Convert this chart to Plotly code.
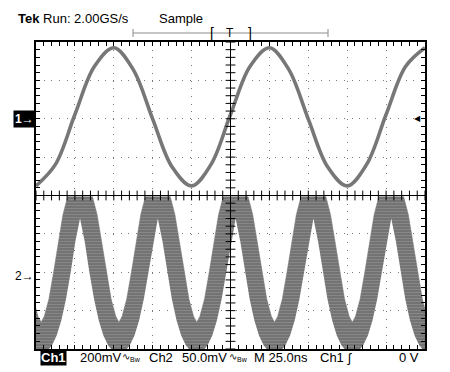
import plotly.graph_objects as go
import numpy as np

# ---- data (time in ns, amplitude in divisions) ----
ch1_t = [0, 12.5, 25, 37.5, 50, 62.5, 75, 87.5, 100, 112.5, 125, 137.5, 150,
         162.5, 175, 187.5, 200, 212.5, 225, 237.5, 250]
ch1_v = [0.25, 0.81, 2.11, 3.36, 3.85, 3.28, 1.99, 0.74, 0.25, 0.81, 2.11, 3.36,
         3.85, 3.28, 1.99, 0.74, 0.25, 0.81, 2.11, 3.36, 3.85]

ch2_up_t = [-13.7, -10.7, -7.7, -4.7, -1.7, 1.3, 3.3, 5.3, 8.3, 11.3, 14.3, 17.3,
            20.3, 36.3, 39.3, 42.3, 45.3, 48.3, 51.3, 53.3, 55.3, 58.3, 61.3, 64.3, 67.3,
            70.3, 86.3, 89.3, 92.3, 95.3, 98.3, 101.3, 103.3, 105.3, 108.3, 111.3, 114.3, 117.3,
            120.3, 136.3, 139.3, 142.3, 145.3, 148.3, 151.3, 153.3, 155.3, 158.3, 161.3, 164.3, 167.3,
            170.3, 186.3, 189.3, 192.3, 195.3, 198.3, 201.3, 203.3, 205.3, 208.3, 211.3, 214.3, 217.3,
            220.3, 236.3, 239.3, 242.3, 245.3, 248.3, 251.3, 253.3, 255.3, 258.3, 261.3, 264.3, 267.3,
            270.3]
ch2_up_v = [-0.03, -0.5, -1.2, -2.0, -2.7, -3.15, -3.3, -3.15, -2.7, -2.0, -1.2, -0.5,
            -0.03, -0.03, -0.5, -1.2, -2.0, -2.7, -3.15, -3.3, -3.15, -2.7, -2.0, -1.2, -0.5,
            -0.03, -0.03, -0.5, -1.2, -2.0, -2.7, -3.15, -3.3, -3.15, -2.7, -2.0, -1.2, -0.5,
            -0.03, -0.03, -0.5, -1.2, -2.0, -2.7, -3.15, -3.3, -3.15, -2.7, -2.0, -1.2, -0.5,
            -0.03, -0.03, -0.5, -1.2, -2.0, -2.7, -3.15, -3.3, -3.15, -2.7, -2.0, -1.2, -0.5,
            -0.03, -0.03, -0.5, -1.2, -2.0, -2.7, -3.15, -3.3, -3.15, -2.7, -2.0, -1.2, -0.5,
            -0.03]
ch2_lo_t = [-21.7, -18.7, -15.7, -12.7, -9.7, -6.7, -3.7, -0.7, 7.3, 10.3, 13.3, 16.3, 19.3, 22.3, 25.3,
            28.3, 31.3, 34.3, 37.3, 40.3, 43.3, 46.3, 49.3, 57.3, 60.3, 63.3, 66.3, 69.3, 72.3, 75.3,
            78.3, 81.3, 84.3, 87.3, 90.3, 93.3, 96.3, 99.3, 107.3, 110.3, 113.3, 116.3, 119.3, 122.3, 125.3,
            128.3, 131.3, 134.3, 137.3, 140.3, 143.3, 146.3, 149.3, 157.3, 160.3, 163.3, 166.3, 169.3, 172.3, 175.3,
            178.3, 181.3, 184.3, 187.3, 190.3, 193.3, 196.3, 199.3, 207.3, 210.3, 213.3, 216.3, 219.3, 222.3, 225.3,
            228.3, 231.3, 234.3, 237.3, 240.3, 243.3, 246.3, 249.3, 257.3, 260.3, 263.3, 266.3, 269.3, 272.3, 275.3,
            278.3]
ch2_lo_v = [-0.6, -1.2, -2.0, -2.7, -3.25, -3.65, -3.9, -4.05, -4.05, -3.9, -3.65, -3.25, -2.7, -2.0, -1.2,
            -0.6, -1.2, -2.0, -2.7, -3.25, -3.65, -3.9, -4.05, -4.05, -3.9, -3.65, -3.25, -2.7, -2.0, -1.2,
            -0.6, -1.2, -2.0, -2.7, -3.25, -3.65, -3.9, -4.05, -4.05, -3.9, -3.65, -3.25, -2.7, -2.0, -1.2,
            -0.6, -1.2, -2.0, -2.7, -3.25, -3.65, -3.9, -4.05, -4.05, -3.9, -3.65, -3.25, -2.7, -2.0, -1.2,
            -0.6, -1.2, -2.0, -2.7, -3.25, -3.65, -3.9, -4.05, -4.05, -3.9, -3.65, -3.25, -2.7, -2.0, -1.2,
            -0.6, -1.2, -2.0, -2.7, -3.25, -3.65, -3.9, -4.05, -4.05, -3.9, -3.65, -3.25, -2.7, -2.0, -1.2,
            -0.6]

ch1_level = 2.0
ch2_level = -2.0

FONT = "Liberation Sans, Arial, sans-serif"

fig = go.Figure()

# Ch2 band
fig.add_trace(go.Scatter(x=ch2_lo_t, y=ch2_lo_v, mode="lines",
                         line=dict(width=0, color="#737373"),
                         hoverinfo="skip", showlegend=False))
fig.add_trace(go.Scatter(x=ch2_up_t, y=ch2_up_v, mode="lines",
                         line=dict(width=0.5, color="#737373"),
                         fill="tonexty", fillcolor="#737373",
                         fillpattern=dict(shape="-", fgcolor="#a0a0a0", size=3,
                                          solidity=0.3, fillmode="overlay"),
                         hoverinfo="skip", showlegend=False))

# Ch1 trace
fig.add_trace(go.Scatter(x=ch1_t, y=ch1_v, mode="lines",
                         line=dict(color="#777777", width=3.6, shape="spline", smoothing=1.0),
                         hoverinfo="skip", showlegend=False))

# centre cross ticks (graticule)
cx = np.arange(0, 250.01, 5)
fig.add_trace(go.Scatter(x=cx, y=np.zeros_like(cx), mode="markers",
                         marker=dict(symbol="line-ns", size=7,
                                     line=dict(color="black", width=1)),
                         hoverinfo="skip", showlegend=False))
cy = np.arange(-4, 4.01, 0.2)
fig.add_trace(go.Scatter(x=np.full_like(cy, 125.0), y=cy, mode="markers",
                         marker=dict(symbol="line-ew", size=7,
                                     line=dict(color="black", width=1)),
                         hoverinfo="skip", showlegend=False))
fig.add_shape(type="line", x0=125, x1=125, y0=-4, y1=4, xref="x", yref="y",
              line=dict(color="black", width=1))

grid = dict(showgrid=True, gridcolor="#7a7a7a", gridwidth=1, griddash="1px,6.7px")
fig.update_xaxes(range=[0, 250], dtick=25, tick0=0, ticks="inside", ticklen=4,
                 tickcolor="black", showticklabels=False, showline=True,
                 linecolor="black", linewidth=1.5, mirror="allticks",
                 zeroline=False,
                 minor=dict(dtick=5, ticks="inside", ticklen=4, tickcolor="black",
                            showgrid=False),
                 **grid)
fig.update_yaxes(range=[-4, 4], dtick=1, tick0=0, ticks="inside", ticklen=4,
                 tickcolor="black", showticklabels=False, showline=True,
                 linecolor="black", linewidth=1.5, mirror="allticks",
                 zeroline=True, zerolinecolor="black", zerolinewidth=1,
                 minor=dict(dtick=0.2, ticks="inside", ticklen=4, tickcolor="black",
                            showgrid=False),
                 **grid)

# page is shown with an 8px body margin: work in screen pixels, shift by 8
OFF = 8
L, R, T, B = 36, 425, 42, 349
W, H = R - L, B - T
FW, FH = 450 - OFF, 372 - OFF


def px(x):
    return (x - L) / W


def py(y):
    return (B - y) / H


ann = []


def text(x, y, s, size=13, anchor="left", color="black", bg=None, yanchor="middle"):
    d = dict(x=px(x), y=py(y), xref="paper", yref="paper", text=s, showarrow=False,
             xanchor=anchor, yanchor=yanchor,
             font=dict(family=FONT, size=size, color=color))
    if bg:
        d["bgcolor"] = bg
        d["borderpad"] = 0
    ann.append(d)


# header
text(16, 19, "<b>Tek</b> Run: 2.00GS/s", size=13)
text(157, 19, "Sample", size=13)
# trigger position bar
fig.add_shape(type="line", xref="paper", yref="paper", x0=px(133), x1=px(328),
              y0=py(33), y1=py(33), line=dict(color="#8c8c8c", width=1))
for xe in (133, 328):
    fig.add_shape(type="line", xref="paper", yref="paper", x0=px(xe), x1=px(xe),
                  y0=py(29), y1=py(37), line=dict(color="#8c8c8c", width=1))
text(212, 33, "[", size=14, anchor="center")
text(230, 33, "T", size=12, anchor="center")
text(250, 33, "]", size=14, anchor="center")

# footer
text(40, 357, "<b>Ch1</b>", size=13, color="white", bg="black")
text(78, 357, "200mV", size=13)
text(120, 357, "∿<sub>Bw</sub>", size=10)
text(147, 357, "Ch2", size=13)
text(180, 357, "50.0mV", size=13)
text(227, 357, "∿<sub>Bw</sub>", size=10)
text(252, 357, "M 25.0ns", size=13)
text(318, 357, "Ch1", size=13)
text(345, 357, "ʃ", size=13)
text(421, 357, "0 V", size=13, anchor="right")

# channel markers
ann.append(dict(x=0, y=ch1_level, xref="paper", yref="y", text="<b>1→</b>", showarrow=False,
                xanchor="right", yanchor="middle", bgcolor="black", borderpad=1,
                font=dict(family=FONT, size=12, color="white")))
ann.append(dict(x=0, y=ch2_level - 0.1, xref="paper", yref="y", text="2→", showarrow=False,
                xanchor="right", yanchor="middle",
                font=dict(family=FONT, size=12, color="black")))
ann.append(dict(x=0.995, y=ch1_level, xref="paper", yref="y", text="◀", showarrow=False,
                xanchor="right", yanchor="middle",
                font=dict(family="DejaVu Sans", size=8, color="black")))

fig.update_layout(width=FW, height=FH,
                  margin=dict(l=L - OFF, r=FW - (R - OFF), t=T - OFF, b=FH - (B - OFF)),
                  paper_bgcolor="white", plot_bgcolor="white", annotations=ann,
                  showlegend=False)

fig.write_html("out.html")
